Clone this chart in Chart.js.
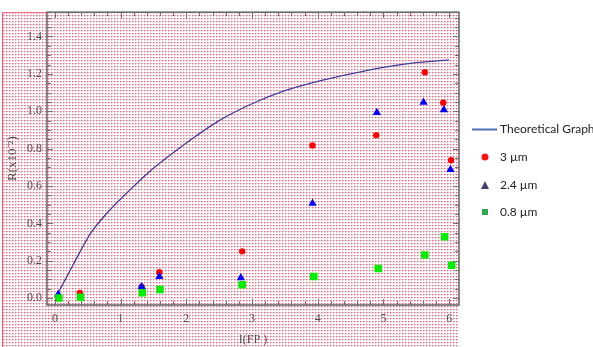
<!DOCTYPE html>
<html>
<head>
<meta charset="utf-8">
<script src="https://cdn.jsdelivr.net/npm/chart.js@4"></script>
<style>
html,body{margin:0;padding:0;background:#fff;}
#wrap{width:593px;height:347px;position:relative;}
</style>
</head>
<body>
<div id="wrap"><canvas id="c" width="593" height="347"></canvas></div>
<script>
// ---- data ----
const theoryX = [0.03, 0.28, 0.53, 0.78, 1.0, 1.45, 2.0, 2.5, 3.0, 3.5, 4.0, 4.5, 5.0, 5.5, 6.0];
const theoryY = [0.015, 0.18, 0.34, 0.45, 0.53, 0.68, 0.83, 0.95, 1.04, 1.11, 1.16, 1.20, 1.235, 1.26, 1.275];

const s3X = [0.05, 0.38, 1.32, 1.59, 2.85, 3.92, 4.89, 5.63, 5.91, 6.03];
const s3Y = [0.01, 0.027, 0.06, 0.138, 0.25, 0.817, 0.872, 1.209, 1.046, 0.738];

const s24X = [0.05, 1.32, 1.59, 2.83, 3.92, 4.90, 5.61, 5.92, 6.02];
const s24Y = [0.02, 0.062, 0.115, 0.108, 0.507, 0.993, 1.048, 1.007, 0.688];

const s08X = [0.06, 0.39, 1.33, 1.60, 2.85, 3.94, 4.92, 5.63, 5.93, 6.04];
const s08Y = [0.0, 0.005, 0.029, 0.046, 0.071, 0.115, 0.158, 0.231, 0.328, 0.176];

const xTicks = [0, 1, 2, 3, 4, 5, 6];
const yTicks = [0.0, 0.2, 0.4, 0.6, 0.8, 1.0, 1.2, 1.4];
const labels = ['Theoretical Graph', '3 \u00b5m', '2.4 \u00b5m', '0.8 \u00b5m'];

const pts = (xs, ys) => xs.map((x, i) => ({x: x, y: ys[i]}));

function makePattern(ctx) {
  const c = document.createElement('canvas');
  c.width = 3; c.height = 3;
  const p = c.getContext('2d');
  p.fillStyle = '#ffffff'; p.fillRect(0, 0, 3, 3);
  p.fillStyle = '#ee6680'; p.fillRect(0, 0, 1, 1);
  p.fillStyle = '#f7a8b6'; p.fillRect(1, 0, 1, 1);
  p.fillStyle = '#f9c4cc'; p.fillRect(0, 1, 1, 1);
  return ctx.createPattern(c, 'repeat');
}

const bgPlugin = {
  id: 'bgPattern',
  beforeDraw(chart) {
    const ctx = chart.ctx, a = chart.chartArea;
    ctx.save();
    ctx.fillStyle = makePattern(ctx);
    ctx.fillRect(2, a.top, a.right - 2, chart.height - a.top);
    ctx.strokeStyle = '#f06070';
    ctx.lineWidth = 1;
    ctx.beginPath();
    ctx.moveTo(2.5, chart.height);
    ctx.lineTo(2.5, a.top + 0.5);
    ctx.lineTo(a.left, a.top + 0.5);
    ctx.stroke();
    ctx.restore();
  }
};

const frame = {
  id: 'frame',
  afterDatasetsDraw(chart) {
    const ctx = chart.ctx, a = chart.chartArea;
    const xs = chart.scales.x, ys = chart.scales.y;
    ctx.save();
    ctx.strokeStyle = '#707070';
    ctx.lineWidth = 1;
    ctx.beginPath();
    for (let i = 0; i <= 31; i++) {
      const v = i * 0.2;
      if (v < xs.min || v > xs.max) continue;
      const px = Math.round(xs.getPixelForValue(v)) + 0.5;
      const major = Math.abs(v - Math.round(v)) < 1e-6;
      const len = major ? 6 : 4;
      ctx.moveTo(px, a.bottom); ctx.lineTo(px, a.bottom - len);
      ctx.moveTo(px, a.top); ctx.lineTo(px, a.top + len);
    }
    for (let i = 0; i <= 30; i++) {
      const v = i * 0.05;
      if (v < ys.min || v > ys.max) continue;
      const py = Math.round(ys.getPixelForValue(v)) + 0.5;
      const major = Math.abs(v * 5 - Math.round(v * 5)) < 1e-6;
      const len = major ? 6 : 4;
      ctx.moveTo(a.left, py); ctx.lineTo(a.left + len, py);
      ctx.moveTo(a.right, py); ctx.lineTo(a.right - len, py);
    }
    ctx.stroke();
    ctx.lineWidth = 1.6;
    ctx.strokeStyle = '#6a6a6a';
    ctx.strokeRect(a.left, a.top, a.right - a.left, a.bottom - a.top);
    ctx.restore();
  }
};

const legendPlugin = {
  id: 'customLegend',
  afterDraw(chart) {
    const ctx = chart.ctx;
    const ds = chart.data.datasets;
    ctx.save();
    ctx.font = '12px Lato';
    ctx.fillStyle = '#1e1e1e';
    ctx.textBaseline = 'middle';
    ctx.textAlign = 'left';
    const tx = 500;
    ctx.strokeStyle = '#4a6fb5';
    ctx.lineWidth = 2;
    ctx.beginPath(); ctx.moveTo(472, 129.5); ctx.lineTo(497, 129.5); ctx.stroke();
    ctx.fillText(ds[3].label, tx, 129.5);
    ctx.fillStyle = '#ff1010';
    ctx.beginPath(); ctx.arc(485, 157, 3.5, 0, Math.PI * 2); ctx.fill();
    ctx.fillStyle = '#1e1e1e';
    ctx.fillText(ds[2].label, tx, 157);
    ctx.fillStyle = '#43406e';
    ctx.beginPath(); ctx.moveTo(485, 181); ctx.lineTo(489, 189); ctx.lineTo(481, 189); ctx.closePath(); ctx.fill();
    ctx.fillStyle = '#1e1e1e';
    ctx.fillText(ds[1].label, tx, 185);
    ctx.fillStyle = '#2fa84c';
    ctx.fillRect(482, 209, 6, 6);
    ctx.fillStyle = '#1e1e1e';
    ctx.fillText(ds[0].label, tx, 212);
    ctx.restore();
  }
};

const serif = 'Liberation Serif';

new Chart(document.getElementById('c'), {
  type: 'scatter',
  data: {
    datasets: [
      {label: labels[3], data: pts(s08X, s08Y), pointStyle: 'rect', pointRadius: 5.3, backgroundColor: '#00ee00', borderWidth: 0, order: 1},
      {label: labels[2], data: pts(s24X, s24Y), pointStyle: 'triangle', pointRadius: 4.8, backgroundColor: '#0000ff', borderWidth: 0, order: 2},
      {label: labels[1], data: pts(s3X, s3Y), pointStyle: 'circle', pointRadius: 3.2, backgroundColor: '#ff0000', borderWidth: 0, order: 3},
      {label: labels[0], type: 'line', data: pts(theoryX, theoryY), showLine: true, pointRadius: 0, borderColor: '#3d3d9e', borderWidth: 1.3, tension: 0.25, fill: false, order: 4}
    ]
  },
  options: {
    responsive: false,
    animation: false,
    devicePixelRatio: 1,
    layout: {padding: {left: 0, top: 10, right: 134, bottom: 0}},
    plugins: {legend: {display: false}, tooltip: {enabled: false}},
    scales: {
      x: {
        type: 'linear', min: -0.12, max: 6.15,
        afterFit(s) { s.height = 42; },
        afterBuildTicks(s) { s.ticks = xTicks.map(v => ({value: v})); },
        grid: {display: false, drawTicks: false},
        border: {display: false},
        ticks: {padding: 7, color: '#505050', font: {family: serif, size: 12}, callback: v => String(v)},
        title: {display: true, text: 'I(FP )', color: '#505050', font: {family: serif, size: 12}, padding: {top: 4, bottom: 0}}
      },
      y: {
        type: 'linear', min: -0.037, max: 1.53,
        afterFit(s) { s.width = 47; },
        afterBuildTicks(s) { s.ticks = yTicks.map(v => ({value: v})); },
        grid: {display: false, drawTicks: false},
        border: {display: false},
        ticks: {padding: 5, color: '#505050', font: {family: serif, size: 12}, callback: v => v.toFixed(1)},
        title: {display: true, text: 'R(x10\u207b\u00b2)', color: '#505050', font: {family: serif, size: 13}, padding: {top: 5, bottom: 0}}
      }
    }
  },
  plugins: [bgPlugin, frame, legendPlugin]
});
</script>
</body>
</html>
